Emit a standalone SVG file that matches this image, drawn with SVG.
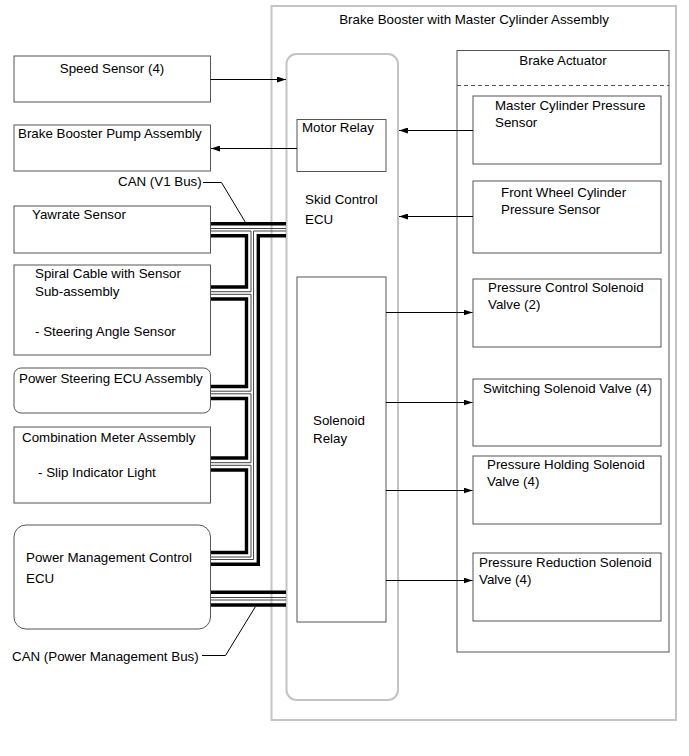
<svg xmlns="http://www.w3.org/2000/svg" width="689" height="756" viewBox="0 0 689 756">
<defs>
<marker id="ah" markerWidth="9" markerHeight="6" refX="9" refY="3" orient="auto" markerUnits="userSpaceOnUse">
<path d="M0,0 L9,3 L0,6 z" fill="#000"/>
</marker>
<style>
text{font-family:"Liberation Sans",Arial,sans-serif;font-size:13.33px;fill:#000}
.box{fill:#fff;stroke:#555;stroke-width:1}
.gray{fill:none;stroke:#c4c4c4;stroke-width:2}
.arr{fill:none;stroke:#000;stroke-width:1;marker-end:url(#ah)}
.thick{fill:none;stroke:#000;stroke-width:3.4;stroke-linejoin:miter}
.thin{fill:none;stroke:#444;stroke-width:1;stroke-linejoin:miter}
.lead{fill:none;stroke:#000;stroke-width:1}
.mid{text-anchor:middle}
</style>
</defs>
<rect width="689" height="756" fill="#fff"/>

<g id="brake-booster-assembly">
<rect class="gray" x="271.5" y="6" width="404.5" height="714"/>
<text class="mid" x="474" y="24">Brake Booster with Master Cylinder Assembly</text>
</g>

<g id="skid-control-ecu">
<rect class="gray" x="286.5" y="54" width="111.5" height="646" rx="10" ry="10"/>
<text x="305" y="204">Skid Control</text>
<text x="305" y="224">ECU</text>
</g>

<g id="motor-relay">
<rect class="box" x="297" y="119.5" width="89" height="52"/>
<text x="302" y="132">Motor Relay</text>
</g>

<g id="solenoid-relay">
<rect class="box" x="297" y="277" width="89" height="345"/>
<text x="313" y="425">Solenoid</text>
<text x="313" y="443">Relay</text>
</g>

<g id="brake-actuator">
<rect class="box" x="457" y="50.5" width="212" height="601.5"/>
<line x1="457" y1="85.5" x2="669" y2="85.5" stroke="#555" stroke-width="1" stroke-dasharray="4,3"/>
<text class="mid" x="563" y="65">Brake Actuator</text>
</g>

<g id="master-cylinder-pressure-sensor">
<rect class="box" x="473" y="96" width="188" height="68"/>
<text x="495" y="110">Master Cylinder Pressure</text>
<text x="495" y="127">Sensor</text>
</g>

<g id="front-wheel-cylinder-pressure-sensor">
<rect class="box" x="473" y="181" width="188" height="72"/>
<text x="501" y="197">Front Wheel Cylinder</text>
<text x="501" y="214">Pressure Sensor</text>
</g>

<g id="pressure-control-solenoid-valve">
<rect class="box" x="473" y="279" width="188" height="68"/>
<text x="488" y="292">Pressure Control Solenoid</text>
<text x="488" y="309">Valve (2)</text>
</g>

<g id="switching-solenoid-valve">
<rect class="box" x="473" y="379" width="188" height="67"/>
<text x="483" y="393">Switching Solenoid Valve (4)</text>
</g>

<g id="pressure-holding-solenoid-valve">
<rect class="box" x="473" y="456" width="188" height="68"/>
<text x="487" y="469">Pressure Holding Solenoid</text>
<text x="487" y="486">Valve (4)</text>
</g>

<g id="pressure-reduction-solenoid-valve">
<rect class="box" x="473" y="553" width="188" height="68"/>
<text x="479" y="567">Pressure Reduction Solenoid</text>
<text x="479" y="584">Valve (4)</text>
</g>

<g id="speed-sensor">
<rect class="box" x="14" y="56" width="196.5" height="46"/>
<text class="mid" x="112" y="73">Speed Sensor (4)</text>
</g>

<g id="brake-booster-pump">
<rect class="box" x="14" y="125" width="196.5" height="46"/>
<text x="18" y="138">Brake Booster Pump Assembly</text>
</g>

<g id="yawrate-sensor">
<rect class="box" x="14" y="206" width="196.5" height="47"/>
<text x="32" y="219">Yawrate Sensor</text>
</g>

<g id="spiral-cable">
<rect class="box" x="14" y="265" width="196.5" height="90"/>
<text x="35" y="278">Spiral Cable with Sensor</text>
<text x="35" y="296">Sub-assembly</text>
<text x="35" y="336">- Steering Angle Sensor</text>
</g>

<g id="power-steering-ecu">
<rect class="box" x="14" y="368" width="196.5" height="45" rx="7" ry="7"/>
<text x="19" y="383">Power Steering ECU Assembly</text>
</g>

<g id="combination-meter">
<rect class="box" x="14" y="427" width="196.5" height="76"/>
<text x="22" y="442">Combination Meter Assembly</text>
<text x="38" y="477">- Slip Indicator Light</text>
</g>

<g id="power-management-ecu">
<rect class="box" x="14" y="525" width="196.5" height="104" rx="12" ry="12"/>
<text x="26" y="562">Power Management Control</text>
<text x="26" y="583">ECU</text>
</g>

<g id="labels">
<text x="118" y="186">CAN (V1 Bus)</text>
<text x="12" y="661">CAN (Power Management Bus)</text>
</g>

<g id="connectors">
<line class="arr" x1="210.5" y1="79.5" x2="286" y2="79.5"/>
<line class="arr" x1="297" y1="148.5" x2="211" y2="148.5"/>
<line class="arr" x1="473" y1="130.5" x2="399" y2="130.5"/>
<line class="arr" x1="473" y1="216.5" x2="399" y2="216.5"/>
<line class="arr" x1="386" y1="312.5" x2="472.5" y2="312.5"/>
<line class="arr" x1="386" y1="402.5" x2="472.5" y2="402.5"/>
<line class="arr" x1="386" y1="490.5" x2="472.5" y2="490.5"/>
<line class="arr" x1="386" y1="580.5" x2="472.5" y2="580.5"/>

<path class="lead" d="M203,182.5 H221.5 L245.5,222.5"/>
<path class="lead" d="M202,655.5 H225.5 L255.5,606.5"/>

<!-- V1 bus -->
<path class="thick" d="M211,223.8 H286"/>
<path class="thin" d="M211,228.5 H286"/>
<path class="thin" d="M286,231 H253.5 V559.5 H211"/>
<path class="thick" d="M286,235.8 H258.3 V564.3 H211"/>
<path class="thin" d="M211,231 H251 V291.7 H211"/>
<path class="thick" d="M211,235.8 H246.5 V287 H211"/>
<path class="thin" d="M211,294.3 H251 V391.2 H211"/>
<path class="thick" d="M211,299 H246.5 V386.5 H211"/>
<path class="thin" d="M211,393.8 H251 V462.7 H211"/>
<path class="thick" d="M211,398.5 H246.5 V458 H211"/>
<path class="thin" d="M211,465.3 H251 V557 H211"/>
<path class="thick" d="M211,470 H246.5 V552.5 H211"/>

<!-- Power management bus -->
<path class="thick" d="M211,592.3 H286"/>
<path class="thin" d="M211,597.5 H286"/>
<path class="thin" d="M211,600 H286"/>
<path class="thick" d="M211,605 H286"/>
</g>
</svg>
